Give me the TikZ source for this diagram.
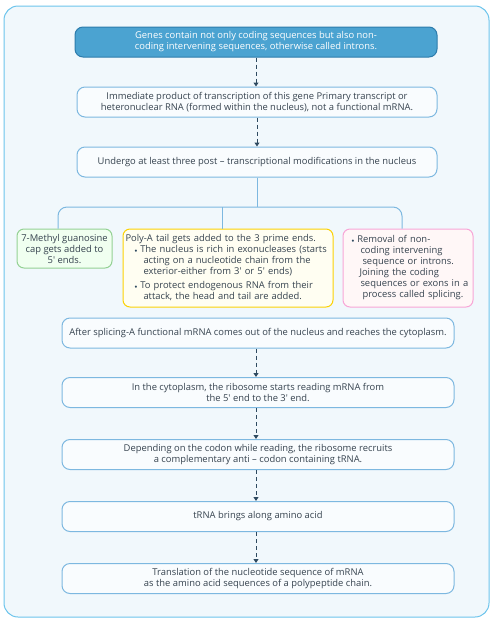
\documentclass[tikz,border=0pt]{standalone}
\usepackage{fontspec}
\setmainfont{Open Sans}
\usetikzlibrary{arrows.meta,calc}
\definecolor{framec}{HTML}{6CC4EC}
\definecolor{bgc}{HTML}{F1F8FC}
\definecolor{linec}{HTML}{7DB8E0}
\definecolor{arrc}{HTML}{2E4A60}
\definecolor{txtc}{HTML}{36434F}
\definecolor{topfill}{HTML}{4BA3D1}
\definecolor{topline}{HTML}{2D7CAC}
\newcommand{\blt}{{\color{arrc}\scalebox{0.6}{$\bullet$}}}
\newcommand{\pr}{\textquotesingle}
\begin{document}
\begin{tikzpicture}[x=1pt,y=-1pt,line width=1pt,
    every node/.style={inner sep=2pt,text=txtc,font=\fontsize{9.4}{11}\selectfont,align=center},
    stepbox/.style={draw=linec,fill=white!60!bgc,rounded corners=8pt,minimum height=30pt},
    >={Triangle[width=5pt,length=4pt]}]
  \useasboundingbox (0,0) rectangle (493,625);
  \draw[framec,fill=bgc,rounded corners=14pt](4,6)rectangle(489,617);
  % main chain
  \node[stepbox,fill=topfill,draw=topline,text=white,minimum width=362pt] (genes) at (256,42)
    {Genes contain not only coding sequences but also non-\\coding intervening sequences, otherwise called introns.};
  \node[stepbox,minimum width=360pt] (prim) at (257,102)
    {Immediate product of transcription of this gene Primary transcript or\\heteronuclear RNA (formed within the nucleus), not a functional mRNA.};
  \node[stepbox,minimum width=360pt] (post) at (257,162)
    {Undergo at least three post -- transcriptional modifications in the nucleus};
  % three modifications
  \node[draw=green!40!gray!60,fill=green!6!white,rounded corners=7pt,
    minimum width=95pt,minimum height=39pt,inner sep=1pt] (cap) at (64.5,248.5)
    {7-Methyl guanosine\\cap gets added to\\5\pr\ ends.};
  \node[draw=yellow!70!orange,fill=yellow!5!white,rounded corners=7pt,
    text width=205pt,minimum height=78pt,inner sep=2.5pt,align=left] (polyA) at (228,268)
    {Poly-A tail gets added to the 3 prime ends.\\
     \hspace*{9pt}\blt\hspace{3pt}The nucleus is rich in exonucleases (starts\\
     \hspace*{18pt}acting on a nucleotide chain from the\\
     \hspace*{18pt}exterior-either from 3\pr\ or 5\pr\ ends)\\[3pt]
     \hspace*{9pt}\blt\hspace{3pt}To protect endogenous RNA from their\\
     \hspace*{18pt}attack, the head and tail are added.};
  \node[draw=magenta!35!white,fill=pink!12!white,rounded corners=7pt,
    text width=125pt,minimum height=78pt,inner sep=2.5pt,align=left] (splice) at (408,268)
    {\hspace*{6pt}\blt\hspace{3pt}Removal of non-\\
     \hspace*{15pt}coding intervening\\
     \hspace*{17pt}sequence or introns.\\
     \hspace*{14pt}Joining the coding\\
     \hspace*{15pt}sequences or exons in a\\
     \hspace*{17pt}process called splicing.};
  % cytoplasm chain
  \node[stepbox,minimum width=392pt] (mature) at (258,333)
    {After splicing-A functional mRNA comes out of the nucleus and reaches the cytoplasm.};
  \node[stepbox,minimum width=392pt] (ribo) at (258,392.5)
    {In the cytoplasm, the ribosome starts reading mRNA from\\the 5\pr\ end to the 3\pr\ end.};
  \node[stepbox,minimum width=392pt] (codon) at (258,454.5)
    {Depending on the codon while reading, the ribosome recruits\\a complementary anti -- codon containing tRNA.};
  \node[stepbox,minimum width=392pt] (trna) at (258,516.5)
    {tRNA brings along amino acid};
  \node[stepbox,minimum width=392pt] (transl) at (258,578.5)
    {Translation of the nucleotide sequence of mRNA\\as the amino acid sequences of a polypeptide chain.};
  % dashed arrows
  \foreach \a/\b in {genes/prim,prim/post}
    \draw[->,arrc,dashed,dash pattern=on 4pt off 3pt](\a.south)--(\a.south|-\b.north);
  \foreach \a/\b in {mature/ribo,ribo/codon,codon/trna,trna/transl}
    \draw[->,arrc,dashed,dash pattern=on 4pt off 3pt]([xshift=-2pt]\a.south)--([xshift=-2pt]\a.south|-\b.north);
  % branches
  \coordinate (fork) at (257,207);
  \draw[linec](post.south)--(fork);
  \draw[linec,rounded corners=9pt]([xshift=-6.5pt]cap.north)|-(fork)-|([xshift=-6pt]splice.north);
  \draw[linec]([xshift=-6pt]polyA.north)--([xshift=-6pt]polyA.north|-fork);
\end{tikzpicture}
\end{document}
